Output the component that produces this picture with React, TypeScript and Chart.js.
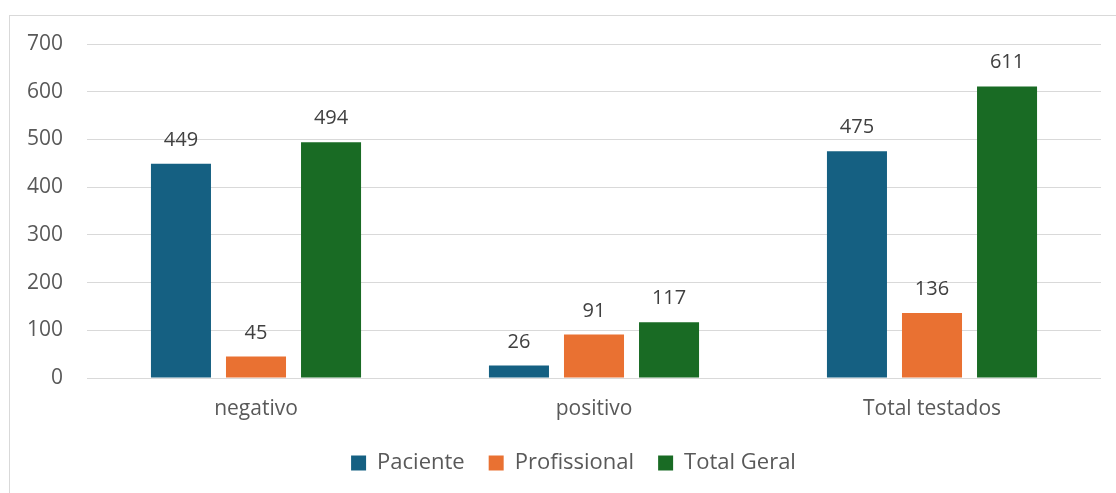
import React, { useEffect, useRef } from "react";
import { Chart, registerables } from "chart.js";

Chart.register(...registerables);

const categories = ["negativo", "positivo", "Total testados"];
const paciente = [449, 26, 475];
const profissional = [45, 91, 136];
const totalGeral = [494, 117, 611];
const yTicks = [0, 100, 200, 300, 400, 500, 600, 700];

const FONT = "'Open Sans', 'Liberation Sans', sans-serif";

const labelPlugin = {
  id: "barLabels",
  afterDatasetsDraw(chart: any) {
    const ctx = chart.ctx;
    ctx.save();
    ctx.font = `20px ${FONT}`;
    ctx.fillStyle = "#404040";
    ctx.textAlign = "center";
    ctx.textBaseline = "alphabetic";
    chart.data.datasets.forEach((ds: any, i: number) => {
      const meta = chart.getDatasetMeta(i);
      meta.data.forEach((el: any, j: number) => {
        ctx.fillText(String(ds.data[j]), el.x, el.y - 18);
      });
    });
    ctx.restore();
  },
};

const legendShift = {
  id: "legendShift",
  afterLayout(chart: any) {
    if (chart.legend) {
      chart.legend.left = 46;
    }
  },
};

export default function App() {
  const ref = useRef<HTMLCanvasElement>(null);
  useEffect(() => {
    document.body.style.margin = "0";
    const chart = new Chart(ref.current!, {
      type: "bar",
      data: {
        labels: categories,
        datasets: [
          { label: "Paciente", data: paciente, backgroundColor: "#156082" },
          { label: "Profissional", data: profissional, backgroundColor: "#E97132" },
          { label: "Total Geral", data: totalGeral, backgroundColor: "#196B24" },
        ],
      },
      options: {
        animation: false,
        responsive: false,
        maintainAspectRatio: false,
        layout: { padding: { left: 0, right: 15, top: 44, bottom: 9 } },
        datasets: { bar: { categoryPercentage: 0.666, barPercentage: 0.8 } },
        scales: {
          x: {
            grid: { display: false, drawTicks: false },
            border: { display: false },
            ticks: { color: "#595959", font: { family: FONT, size: 21 }, padding: 18 },
            afterFit: (s: any) => { s.height = 50; },
          },
          y: {
            min: 0,
            max: 700,
            grid: { color: "#d9d9d9", lineWidth: 1, drawTicks: false },
            border: { display: false },
            afterBuildTicks: (s: any) => { s.ticks = yTicks.map((v) => ({ value: v })); },
            ticks: { color: "#595959", font: { family: FONT, size: 21 }, padding: 24 },
            afterFit: (s: any) => { s.width = 87; },
          },
        },
        plugins: {
          legend: {
            position: "bottom",
            labels: {
              color: "#595959",
              font: { family: FONT, size: 22 },
              boxWidth: 15,
              boxHeight: 15,
              padding: 24,
            },
          },
          tooltip: { enabled: false },
        },
      },
      plugins: [labelPlugin, legendShift],
    });
    return () => chart.destroy();
  }, []);
  return (
    <div style={{ position: "fixed", left: 0, top: 0, width: 1116, height: 493, overflow: "hidden", background: "#fff" }}>
      <div style={{ position: "absolute", left: 9, top: 15, width: 1200, height: 600, border: "1px solid #d9d9d9", boxSizing: "border-box" }} />
      <canvas ref={ref} width={1116} height={493} style={{ position: "absolute", left: 0, top: 0, width: 1116, height: 493 }} />
    </div>
  );
}
